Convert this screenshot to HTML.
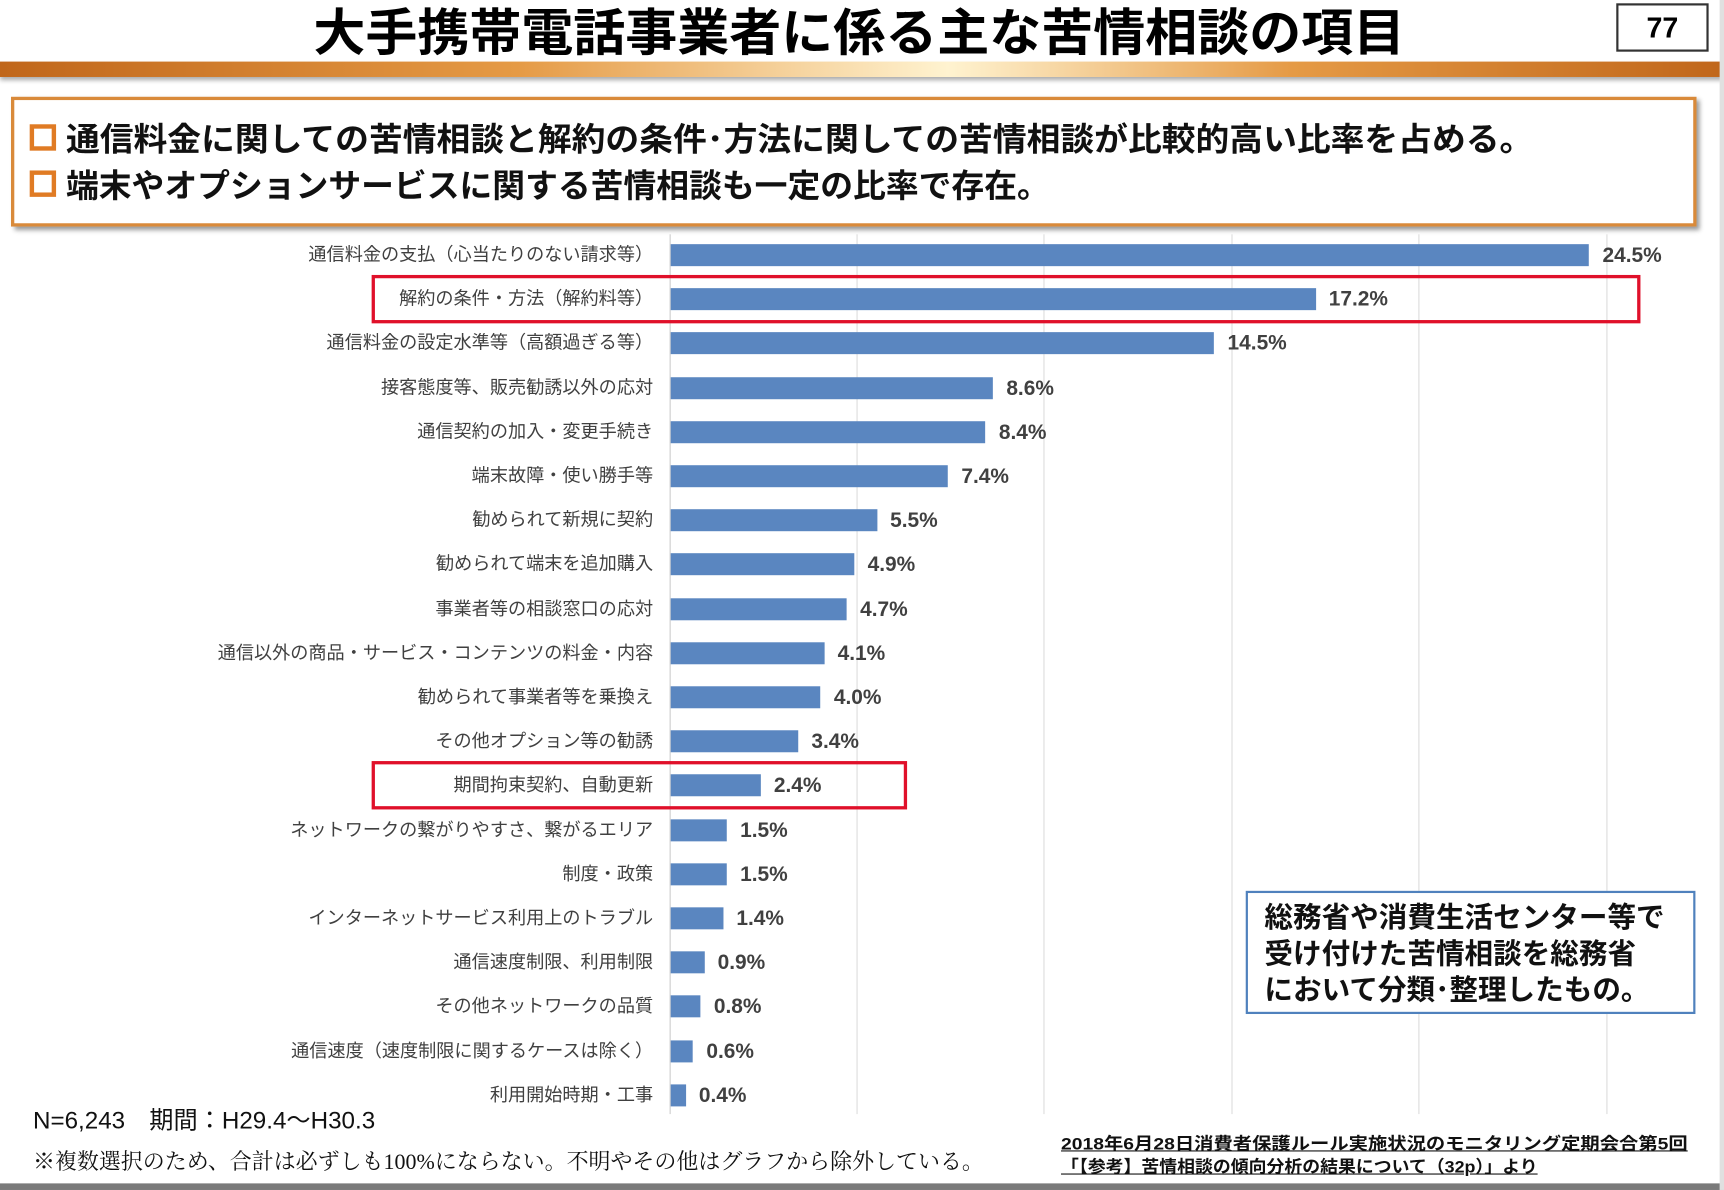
<!DOCTYPE html>
<html><head><meta charset="utf-8"><style>
html,body{margin:0;padding:0;background:#fff;width:1724px;height:1190px;overflow:hidden}
#w{position:absolute;left:0;top:0;width:1568px;height:1082px;transform:scale(1.0995,1.0998);transform-origin:0 0;font-family:"Liberation Sans","Noto Sans CJK JP",sans-serif}
.a{position:absolute;white-space:nowrap}
.lab{position:absolute;right:974px;font-size:16.5px;color:#404040;line-height:20px}
.bar{position:absolute;left:610px;height:20px;background:#5a86c0}
.val{position:absolute;font-size:19px;color:#404040;line-height:20px;font-weight:bold}
.g{position:absolute;top:213px;height:800px;width:1px;background:#dcdcdc}
.sq{position:absolute;left:27px;width:16px;height:16px;border:4px solid #e07b24}
</style></head><body><div id="w">
<div class="a" id="t0" style="left:285px;top:-6px;font-size:46px;font-weight:bold;color:#000;transform-origin:0 0">大手携帯電話事業者に係る主な苦情相談の項目</div>
<div class="a" style="left:1470px;top:3px;width:80px;height:40px;border:2px solid #333;text-align:center;font-size:26px;font-weight:bold;line-height:40px;background:#fff">77</div>
<div class="a" style="left:0;top:56px;width:1568px;height:14px;background:linear-gradient(to right,#c0661a,#e59a45 30%,#fff3d0 55%,#e59a45 75%,#c0661a);box-shadow:0 3px 4px #aaa"></div>
<div class="a" style="left:10px;top:88px;width:1527px;height:112px;border:3px solid #d98a3a;box-shadow:3px 3px 4px #999;background:#fff"></div>
<div class="sq" style="top:113px"></div><div class="sq" style="top:155px"></div>
<div class="a" id="t1" style="left:60px;top:103px;font-size:29.6px;font-weight:bold;color:#111;transform-origin:0 0">通信料金に関しての苦情相談と解約の条件･方法に関しての苦情相談が比較的高い比率を占める。</div>
<div class="a" id="t2" style="left:60px;top:145px;font-size:29.6px;font-weight:bold;color:#111;transform-origin:0 0">端末やオプションサービスに関する苦情相談も一定の比率で存在。</div>
<div class="g" style="left:609px;background:#ccc"></div><div class="g" style="left:779px"></div><div class="g" style="left:949px"></div><div class="g" style="left:1120px"></div><div class="g" style="left:1290px"></div><div class="g" style="left:1461px"></div>
<div id="rows"></div>
<div class="a" style="left:338px;top:250px;width:1148px;height:38px;border:3px solid #e0102a"></div>
<div class="a" style="left:338px;top:692px;width:481px;height:38px;border:3px solid #e0102a"></div>
<div class="a" style="left:1133px;top:810px;width:405px;height:108px;border:2px solid #4f81bd;background:#fff"></div>
<div class="a" style="left:1150px;top:818px;font-size:26px;font-weight:bold;line-height:33px;color:#111">総務省や消費生活センター等で<br>受け付けた苦情相談を総務省<br>において分類･整理したもの。</div>
<div class="a" style="left:30px;top:1001px;font-size:22px;color:#111">N=6,243　期間：H29.4～H30.3</div>
<div class="a" id="t3" style="left:30px;top:1040px;font-size:20px;color:#111;font-family:'Liberation Serif','Noto Serif CJK SC',serif;transform-origin:0 0">※複数選択のため、合計は必ずしも100%にならない。不明やその他はグラフから除外している。</div>
<div class="a" id="t4" style="left:965px;top:1030px;font-size:15.5px;font-weight:bold;text-decoration:underline;line-height:21px;color:#111;transform-origin:0 0">2018年6月28日消費者保護ルール実施状況のモニタリング定期会合第5回</div>
<div class="a" id="t5" style="left:965px;top:1051px;font-size:15.5px;font-weight:bold;text-decoration:underline;line-height:21px;color:#111;transform-origin:0 0">「【参考】苦情相談の傾向分析の結果について（32p）」より</div>
<div class="a" style="left:0;top:1076px;width:1568px;height:6px;background:#7a7a7a"></div>
<div class="a" style="left:1564px;top:0;width:4px;height:1082px;background:#e0e0e0"></div>
</div>
<script>
var d=[["通信料金の支払（心当たりのない請求等）",24.5],["解約の条件・方法（解約料等）",17.2],["通信料金の設定水準等（高額過ぎる等）",14.5],["接客態度等、販売勧誘以外の応対",8.6],["通信契約の加入・変更手続き",8.4],["端末故障・使い勝手等",7.4],["勧められて新規に契約",5.5],["勧められて端末を追加購入",4.9],["事業者等の相談窓口の応対",4.7],["通信以外の商品・サービス・コンテンツの料金・内容",4.1],["勧められて事業者等を乗換え",4.0],["その他オプション等の勧誘",3.4],["期間拘束契約、自動更新",2.4],["ネットワークの繋がりやすさ、繋がるエリア",1.5],["制度・政策",1.5],["インターネットサービス利用上のトラブル",1.4],["通信速度制限、利用制限",0.9],["その他ネットワークの品質",0.8],["通信速度（速度制限に関するケースは除く）",0.6],["利用開始時期・工事",0.4]];
var h="";d.forEach(function(r,i){var y=232+i*40.2-10,w=r[1]*34.1;
h+='<div class="lab" style="top:'+y+'px">'+r[0]+'</div><div class="bar" style="top:'+y+'px;width:'+w+'px"></div><div class="val" style="top:'+(y+1)+'px;left:'+(610+w+12)+'px">'+r[1].toFixed(1)+'%</div>';});
document.getElementById("rows").innerHTML=h;
[["t0",993],["t1",1335],["t2",895],["t3",865],["t4",570],["t5",433]].forEach(function(p){var e=document.getElementById(p[0]);var s=p[1]/e.offsetWidth;e.style.transform="scaleX("+s+")";});
</script>
</body></html>
